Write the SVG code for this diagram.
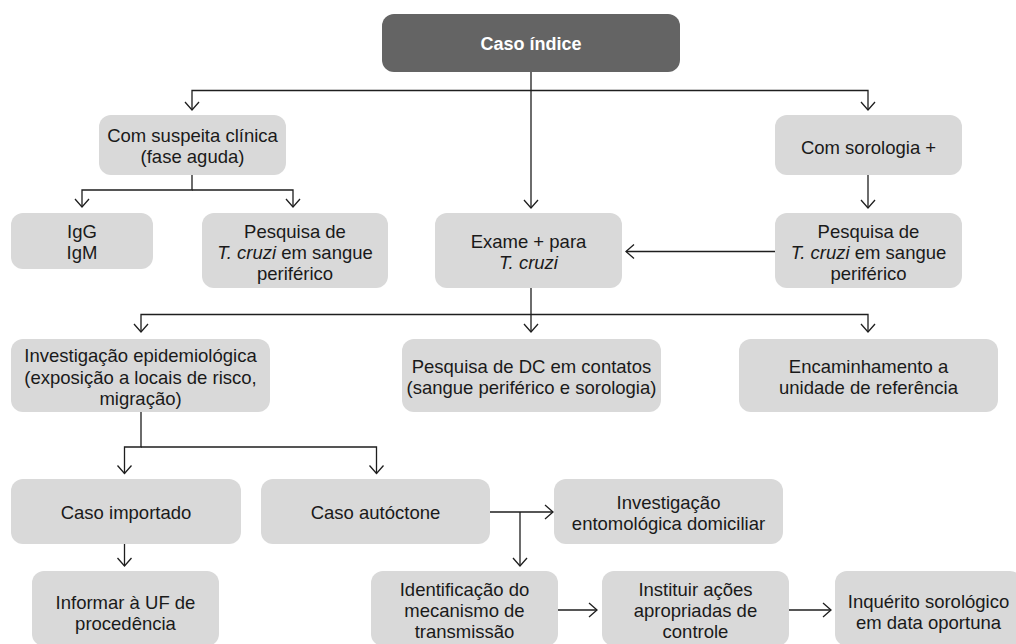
<svg xmlns="http://www.w3.org/2000/svg" width="1016" height="644" viewBox="0 0 1016 644">
<defs>
<style>
.box{fill:#d9d9d9;}
.top{fill:#646464;}
text{font-family:"Liberation Sans","Open Sans",Arial,sans-serif;font-size:18.5px;fill:#1a1a1a;text-anchor:middle;}
.tt{fill:#ffffff;font-weight:bold;font-size:18px;}
.it{font-style:italic;}
.c path{fill:none;stroke:#1e1e1e;stroke-width:1.3;}
</style>
<marker id="arr" viewBox="-10 -9 12 18" refX="0" refY="0" markerWidth="12" markerHeight="18" markerUnits="userSpaceOnUse" orient="auto">
<path d="M-8,-7 L0,0 L-8,7" fill="none" stroke="#1e1e1e" stroke-width="1.3"/>
</marker>
</defs>
<rect width="1016" height="644" fill="#ffffff"/>
<g class="c" id="connectors">
<path d="M531,72 V208" marker-end="url(#arr)"/>
<path d="M531,90.5 H192 V110" marker-end="url(#arr)"/>
<path d="M531,90.5 H868 V110" marker-end="url(#arr)"/>
<path d="M192,175 V190 H82 V207" marker-end="url(#arr)"/>
<path d="M192,190 H293 V207" marker-end="url(#arr)"/>
<path d="M868,175 V208" marker-end="url(#arr)"/>
<path d="M775,251.5 H626" marker-end="url(#arr)"/>
<path d="M531,288 V332" marker-end="url(#arr)"/>
<path d="M531,314.5 H141 V332" marker-end="url(#arr)"/>
<path d="M531,314.5 H868 V332" marker-end="url(#arr)"/>
<path d="M141,412 V447 H124.5 V473.5" marker-end="url(#arr)"/>
<path d="M141,447 H376.5 V473.5" marker-end="url(#arr)"/>
<path d="M124.5,544 V566" marker-end="url(#arr)"/>
<path d="M490,512 H553" marker-end="url(#arr)"/>
<path d="M520,512 V566" marker-end="url(#arr)"/>
<path d="M558,610 H597" marker-end="url(#arr)"/>
<path d="M789,610 H831" marker-end="url(#arr)"/>
</g>
<g id="caso-indice">
<rect class="top" x="382" y="14" width="298" height="58" rx="12"/>
<text class="tt" x="531" y="50">Caso índice</text>
</g>
<g id="suspeita">
<rect class="box" x="99" y="115" width="187" height="60" rx="12"/>
<text x="192.5" y="142">Com suspeita clínica<tspan x="192.5" dy="21">(fase aguda)</tspan></text>
</g>
<g id="igg">
<rect class="box" x="11" y="213" width="142" height="56" rx="12"/>
<text x="82" y="238">IgG<tspan x="82" dy="21">IgM</tspan></text>
</g>
<g id="pesquisa-esq">
<rect class="box" x="202" y="213" width="186" height="75" rx="12"/>
<text x="295" y="238">Pesquisa de<tspan x="295" dy="21"><tspan class="it">T. cruzi</tspan> em sangue</tspan><tspan x="295" dy="21">periférico</tspan></text>
</g>
<g id="exame">
<rect class="box" x="435" y="213" width="187" height="75" rx="12"/>
<text x="528.5" y="248">Exame + para<tspan x="528.5" dy="21" class="it">T. cruzi</tspan></text>
</g>
<g id="sorologia">
<rect class="box" x="775" y="115" width="187" height="60" rx="12"/>
<text x="868.5" y="154">Com sorologia +</text>
</g>
<g id="pesquisa-dir">
<rect class="box" x="775" y="213" width="187" height="75" rx="12"/>
<text x="868.5" y="238">Pesquisa de<tspan x="868.5" dy="21"><tspan class="it">T. cruzi</tspan> em sangue</tspan><tspan x="868.5" dy="21">periférico</tspan></text>
</g>
<g id="investigacao-epid">
<rect class="box" x="11" y="339" width="259" height="73" rx="12"/>
<text x="140.5" y="362">Investigação epidemiológica<tspan x="140.5" dy="21.5">(exposição a locais de risco,</tspan><tspan x="140.5" dy="21.5">migração)</tspan></text>
</g>
<g id="pesquisa-dc">
<rect class="box" x="402" y="339" width="259" height="73" rx="12"/>
<text x="531.5" y="373">Pesquisa de DC em contatos<tspan x="531.5" dy="21">(sangue periférico e sorologia)</tspan></text>
</g>
<g id="encaminhamento">
<rect class="box" x="739" y="339" width="259" height="73" rx="12"/>
<text x="868.5" y="373">Encaminhamento a<tspan x="868.5" dy="21">unidade de referência</tspan></text>
</g>
<g id="importado">
<rect class="box" x="11" y="479" width="230" height="65" rx="12"/>
<text x="126" y="519">Caso importado</text>
</g>
<g id="autoctone">
<rect class="box" x="261" y="479" width="229" height="65" rx="12"/>
<text x="375.5" y="519">Caso autóctone</text>
</g>
<g id="entomologica">
<rect class="box" x="554" y="479" width="229" height="65" rx="12"/>
<text x="668.5" y="509">Investigação<tspan x="668.5" dy="21">entomológica domiciliar</tspan></text>
</g>
<g id="informar">
<rect class="box" x="32" y="571" width="187" height="75" rx="12"/>
<text x="125.5" y="609">Informar à UF de<tspan x="125.5" dy="21">procedência</tspan></text>
</g>
<g id="identificacao">
<rect class="box" x="371" y="571" width="187" height="75" rx="12"/>
<text x="464.5" y="596">Identificação do<tspan x="464.5" dy="21">mecanismo de</tspan><tspan x="464.5" dy="21">transmissão</tspan></text>
</g>
<g id="instituir">
<rect class="box" x="602" y="571" width="187" height="75" rx="12"/>
<text x="695.5" y="596">Instituir ações<tspan x="695.5" dy="21">apropriadas de</tspan><tspan x="695.5" dy="21">controle</tspan></text>
</g>
<g id="inquerito">
<rect class="box" x="835" y="571" width="187" height="75" rx="12"/>
<text x="928.5" y="608">Inquérito sorológico<tspan x="928.5" dy="21">em data oportuna</tspan></text>
</g>
</svg>
